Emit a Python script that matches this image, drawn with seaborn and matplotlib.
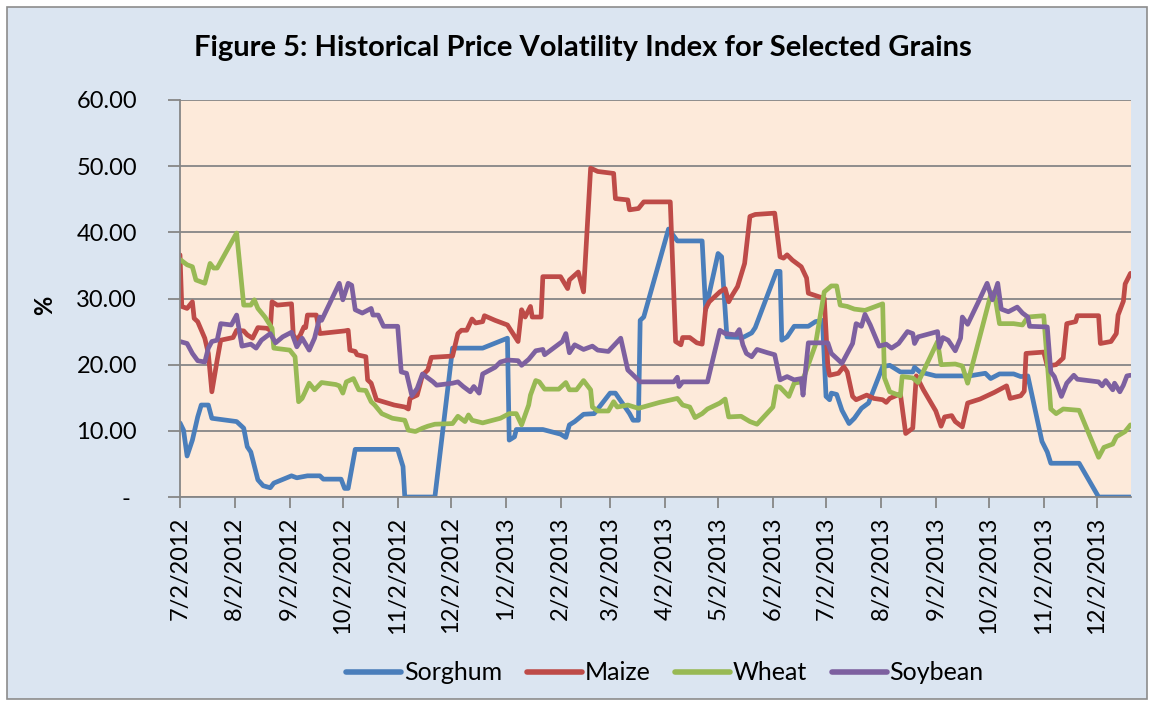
import matplotlib
matplotlib.use("Agg")
import matplotlib.pyplot as plt
import matplotlib.dates as mdates
from matplotlib.patches import Rectangle
from matplotlib.lines import Line2D
import seaborn as sns
import pandas as pd

# volatility index (%), x as days after the first date
start_date = "2012-07-02"
end_day = 537.3

sorghum_days = [0, 2, 4, 7, 10, 12, 16, 18, 32, 36, 38, 40, 44, 47, 51, 53,
                63, 66, 72, 79, 81, 91, 93, 95, 99, 123, 126, 127, 144, 154, 171, 185,
                186, 189, 190, 205, 215, 218, 220, 223, 228, 234, 243, 246, 254, 256, 259, 260,
                262, 276, 281, 295, 297, 304, 306, 309, 318, 323, 325, 337, 339, 340, 343, 347,
                355, 359, 363, 365, 367, 368, 371, 374, 378, 381, 385, 389, 397, 401, 407, 414,
                415, 418, 427, 446, 455, 458, 463, 471, 475, 479, 487, 490, 492, 508, 519, 537]
sorghum_pct = [11.2, 10.1, 6.2, 8.6, 12.1, 13.9, 13.9, 11.9, 11.4, 10.4, 7.6, 6.8, 2.6, 1.7, 1.4, 2.1,
               3.2, 2.9, 3.2, 3.2, 2.7, 2.7, 1.3, 1.3, 7.2, 7.2, 4.6, 0, 0, 22.5, 22.5, 24.0,
               8.6, 9.1, 10.2, 10.2, 9.5, 9.0, 10.9, 11.4, 12.5, 12.6, 15.7, 15.7, 12.6, 11.6, 11.6, 26.7,
               27.2, 40.5, 38.7, 38.7, 28.3, 36.8, 36.3, 24.2, 24.1, 24.8, 25.6, 34.1, 34.1, 23.7, 24.2, 25.8,
               25.8, 26.5, 26.7, 15.2, 14.7, 15.7, 15.5, 13.1, 11.1, 11.9, 13.4, 14.2, 19.7, 19.9, 18.9, 18.9,
               19.6, 18.9, 18.3, 18.3, 18.7, 17.9, 18.6, 18.6, 18.2, 18.3, 8.4, 6.8, 5.1, 5.1, 0, 0]

maize_days = [0, 1, 4, 7, 8, 10, 14, 16, 18, 21, 23, 30, 32, 36, 38, 41,
              44, 49, 51, 52, 55, 63, 64, 66, 68, 70, 71, 72, 77, 79, 93, 95,
              96, 99, 100, 105, 106, 108, 111, 121, 127, 129, 130, 134, 137, 140, 142, 154,
              157, 159, 162, 165, 167, 171, 172, 178, 185, 191, 193, 195, 198, 199, 204, 205,
              215, 219, 220, 225, 228, 232, 236, 245, 246, 253, 254, 259, 262, 277, 280, 283,
              284, 288, 292, 295, 297, 299, 305, 308, 310, 312, 315, 319, 322, 325, 336, 339,
              341, 343, 346, 351, 354, 355, 364, 366, 367, 372, 375, 377, 380, 382, 388, 392,
              397, 399, 401, 407, 410, 414, 416, 420, 427, 430, 432, 436, 438, 442, 445, 452,
              456, 460, 467, 469, 475, 477, 478, 488, 490, 495, 499, 501, 506, 507, 519, 520,
              526, 529, 530, 533, 534, 537]
maize_pct = [36.6, 28.8, 28.5, 29.5, 27.0, 26.5, 24.0, 21.7, 15.9, 20.7, 23.7, 24.1, 25.2, 25.1, 24.5, 24.0,
             25.6, 25.5, 25.2, 29.5, 29.0, 29.2, 24.5, 23.7, 24.5, 25.7, 25.6, 27.5, 27.5, 24.7, 25.1, 25.2,
             22.2, 22.0, 21.5, 21.2, 17.7, 17.2, 14.7, 13.9, 13.6, 13.3, 14.9, 15.4, 18.4, 19.2, 21.1, 21.3,
             24.7, 25.2, 25.2, 26.9, 26.3, 26.5, 27.4, 26.7, 26.0, 23.5, 28.3, 27.2, 28.8, 27.2, 27.2, 33.3,
             33.3, 31.5, 32.8, 34.0, 31.0, 49.7, 49.2, 48.9, 45.1, 44.9, 43.4, 43.6, 44.6, 44.6, 23.5, 23.0,
             24.1, 24.1, 23.3, 23.1, 28.5, 29.5, 31.0, 31.5, 29.5, 30.5, 31.8, 35.3, 42.4, 42.7, 42.9, 36.3,
             36.1, 36.6, 35.8, 34.8, 33.1, 30.8, 30.0, 19.9, 18.4, 18.7, 19.7, 18.9, 15.2, 14.7, 15.4, 14.9,
             14.7, 14.3, 14.9, 15.6, 9.6, 10.4, 18.3, 16.2, 13.0, 10.7, 12.1, 12.3, 11.4, 10.6, 14.2, 14.8,
             15.3, 15.8, 16.8, 14.9, 15.3, 16.0, 21.7, 21.9, 19.8, 20.0, 21.0, 26.2, 26.5, 27.4, 27.4, 23.2,
             23.5, 24.7, 27.5, 29.6, 32.2, 33.8]

wheat_days = [0, 4, 7, 9, 14, 17, 19, 21, 32, 36, 40, 42, 44, 48, 52, 53,
              62, 65, 67, 69, 73, 76, 80, 88, 90, 92, 94, 98, 101, 105, 108, 110,
              114, 120, 127, 129, 133, 137, 140, 144, 154, 157, 161, 163, 165, 171, 181, 186,
              190, 193, 197, 198, 201, 203, 206, 214, 218, 220, 224, 228, 232, 233, 236, 242,
              245, 247, 253, 259, 271, 281, 284, 288, 291, 295, 298, 305, 308, 310, 317, 322,
              326, 335, 337, 339, 344, 347, 351, 353, 359, 364, 368, 371, 373, 377, 381, 387,
              397, 398, 401, 407, 408, 414, 417, 428, 430, 438, 442, 445, 458, 460, 463, 471,
              476, 479, 488, 492, 495, 499, 508, 519, 522, 527, 529, 534, 537]
wheat_pct = [35.9, 35.1, 34.8, 32.8, 32.3, 35.3, 34.6, 34.6, 39.9, 29.0, 29.0, 29.8, 28.5, 27.2, 25.5, 22.5,
             22.2, 21.2, 14.4, 14.9, 17.2, 16.2, 17.3, 17.0, 16.8, 15.7, 17.4, 17.9, 16.2, 16.1, 14.4, 13.9,
             12.6, 11.9, 11.6, 10.1, 9.9, 10.4, 10.7, 11.0, 11.1, 12.2, 11.4, 12.4, 11.6, 11.2, 11.9, 12.6,
             12.6, 10.9, 13.9, 15.4, 17.6, 17.4, 16.3, 16.3, 17.3, 16.2, 16.2, 17.6, 16.2, 13.6, 13.0, 13.0,
             14.4, 13.6, 13.9, 13.4, 14.3, 14.9, 13.9, 13.6, 12.0, 12.6, 13.3, 14.2, 14.8, 12.1, 12.2, 11.4,
             11.0, 13.6, 16.7, 16.6, 15.2, 17.2, 17.4, 18.5, 23.0, 31.0, 31.9, 31.9, 29.0, 28.8, 28.4, 28.2,
             29.2, 18.0, 15.9, 15.3, 18.2, 18.0, 17.3, 23.5, 20.0, 20.1, 19.8, 17.2, 30.5, 31.0, 26.2, 26.2,
             26.0, 27.2, 27.4, 13.3, 12.6, 13.3, 13.1, 6.0, 7.5, 8.0, 9.1, 9.9, 10.9]

soybean_days = [0, 4, 7, 10, 14, 16, 18, 21, 23, 29, 32, 35, 40, 43, 46, 51,
                54, 58, 63, 66, 69, 73, 76, 79, 80, 90, 92, 95, 97, 99, 103, 108,
                109, 112, 115, 123, 125, 128, 131, 134, 137, 143, 145, 154, 157, 160, 164, 166,
                169, 171, 178, 181, 185, 191, 193, 197, 201, 205, 206, 212, 216, 218, 220, 223,
                228, 233, 236, 242, 249, 253, 255, 260, 279, 281, 282, 284, 298, 305, 308, 314,
                316, 318, 320, 323, 326, 332, 336, 339, 343, 347, 351, 352, 355, 366, 368, 374,
                380, 382, 385, 387, 390, 395, 399, 402, 406, 411, 414, 415, 417, 428, 429, 431,
                434, 438, 441, 442, 445, 452, 456, 459, 462, 464, 468, 473, 476, 479, 480, 490,
                492, 494, 498, 501, 505, 507, 519, 521, 523, 527, 528, 531, 533, 535, 537]
soybean_pct = [23.5, 23.2, 21.7, 20.6, 20.4, 22.5, 23.5, 23.7, 26.2, 26.0, 27.5, 22.8, 23.1, 22.5, 23.7, 24.7,
               23.3, 24.2, 24.9, 22.7, 24.0, 22.2, 24.0, 27.2, 26.7, 32.3, 29.8, 32.3, 32.0, 28.3, 27.8, 28.5,
               27.5, 27.5, 25.8, 25.8, 18.9, 18.7, 15.3, 16.4, 18.6, 17.4, 16.9, 17.2, 17.4, 16.7, 15.9, 16.7,
               15.7, 18.6, 19.6, 20.4, 20.7, 20.6, 19.9, 20.8, 22.1, 22.3, 21.5, 22.7, 23.5, 24.7, 21.8, 23.0,
               22.3, 22.8, 22.2, 22.0, 24.0, 19.2, 18.7, 17.4, 17.4, 18.1, 16.7, 17.4, 17.4, 25.2, 24.7, 24.5,
               25.3, 23.0, 21.7, 21.2, 22.3, 21.8, 21.5, 17.7, 18.2, 17.7, 17.9, 15.4, 23.3, 23.3, 21.7, 20.2,
               23.2, 26.2, 25.8, 27.6, 26.0, 22.8, 23.1, 22.5, 23.2, 25.0, 24.7, 23.2, 24.2, 25.0, 22.6, 24.1,
               23.7, 22.1, 24.0, 27.2, 26.1, 30.0, 32.3, 29.8, 32.3, 28.4, 28.0, 28.7, 27.8, 27.2, 25.8, 25.7,
               18.9, 18.2, 15.2, 17.2, 18.4, 17.8, 17.4, 16.8, 17.6, 16.2, 17.2, 15.9, 16.9, 18.3, 18.4]

grains = ["Sorghum", "Maize", "Wheat", "Soybean"]
colors = ["#4A7EBB", "#BE4B48", "#98B954", "#7D60A0"]
y_ticks = [0, 10, 20, 30, 40, 50, 60]
y_labels = ["-\u00a0", "10.00", "20.00", "30.00", "40.00", "50.00", "60.00"]

series = {
    "Sorghum": (sorghum_days, sorghum_pct),
    "Maize": (maize_days, maize_pct),
    "Wheat": (wheat_days, wheat_pct),
    "Soybean": (soybean_days, soybean_pct),
}

t0 = pd.Timestamp(start_date)
frames = []
for g in grains:
    d, v = series[g]
    frames.append(pd.DataFrame({
        "date": t0 + pd.to_timedelta(d, unit="D"),
        "pct": v,
        "grain": g,
    }))
df = pd.concat(frames, ignore_index=True)

sns.set_theme(style="white")
plt.rcParams["font.family"] = ["Lato", "DejaVu Sans"]
plt.rcParams["text.color"] = "black"

W, H = 1154, 706
fig = plt.figure(figsize=(W / 100, H / 100), dpi=100)
fig.patch.set_facecolor("white")
frame = Rectangle((7 / W, 7 / H), 1 - 14 / W, 1 - 14 / H, transform=fig.transFigure,
                  facecolor="#DBE5F1", edgecolor="#8C8C8C", linewidth=1.2, zorder=-5)
fig.add_artist(frame)

ax = fig.add_axes([180 / W, 1 - 497 / H, (1131 - 180) / W, (497 - 100) / H])
ax.set_zorder(2)
ax.set_facecolor("#FDEADA")

sns.lineplot(data=df, x="date", y="pct", hue="grain", hue_order=grains, palette=colors,
             estimator=None, sort=False, linewidth=3.4, legend=False, ax=ax)
for line in ax.get_lines():
    line.set_solid_joinstyle("round")
    line.set_solid_capstyle("round")

grid_gray = "#868686"
ax.set_ylim(0, 60)
ax.set_yticks(y_ticks)
ax.set_yticklabels(y_labels)
ax.yaxis.grid(True, color=grid_gray, linewidth=1.3)
ax.xaxis.grid(False)
ax.set_axisbelow(True)
ax.set_xlim(t0, t0 + pd.Timedelta(days=end_day))
ax.xaxis.set_major_locator(mdates.MonthLocator(bymonthday=2))
ax.xaxis.set_major_formatter(plt.FuncFormatter(
    lambda x, pos: "{d.month}/{d.day}/{d.year}".format(d=mdates.num2date(x))))

for side in ["top", "right"]:
    ax.spines[side].set_visible(False)
for side in ["left", "bottom"]:
    ax.spines[side].set_color(grid_gray)
    ax.spines[side].set_linewidth(1.3)

ax.tick_params(axis="y", direction="out", length=9, width=1.3, color=grid_gray,
               pad=22, labelsize=17, labelcolor="black", left=True)
ax.tick_params(axis="x", direction="out", length=8, width=1.3, color=grid_gray,
               pad=6, labelsize=17, labelcolor="black", bottom=True, labelrotation=90)
ax.set_xlabel("")
ax.set_ylabel("")

fig.text(583 / W, 1 - 48 / H, "Figure 5: Historical Price Volatility Index for Selected Grains",
         ha="center", va="center", fontsize=21, fontweight="bold", color="black")
fig.text(45 / W, 1 - 305 / H, "%", rotation=90, ha="center", va="center",
         fontsize=17, fontweight="bold", color="black")

handles = [Line2D([], [], color=c, linewidth=4.0, solid_capstyle="round") for c in colors]
leg = fig.legend(handles, grains, loc="center", bbox_to_anchor=(665 / W, 1 - 673 / H), ncol=4,
                 frameon=False, fontsize=18, handlelength=2.2, handletextpad=0.1, columnspacing=1.0)
for t in leg.get_texts():
    t.set_color("black")

fig.savefig("out.png", dpi=100, facecolor=fig.get_facecolor())
